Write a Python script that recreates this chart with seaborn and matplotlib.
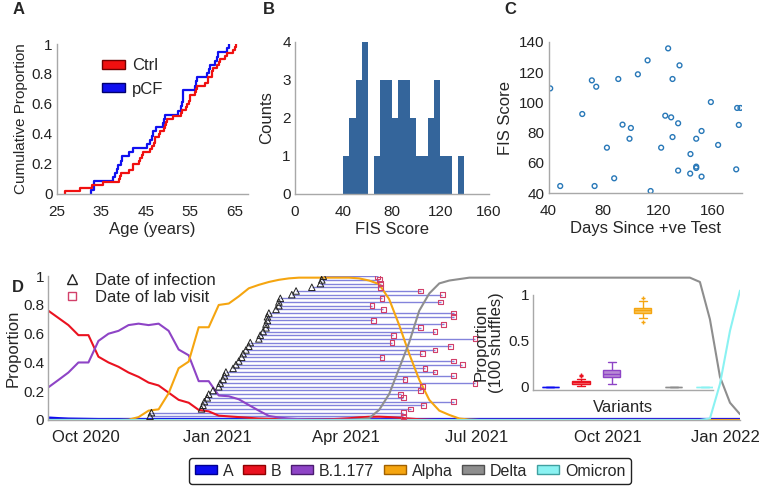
import numpy as np
import pandas as pd
import matplotlib
matplotlib.use('Agg')
import matplotlib.pyplot as plt
import matplotlib.dates as mdates
from matplotlib.patches import Patch
from matplotlib.lines import Line2D
from matplotlib.ticker import FuncFormatter
from matplotlib.transforms import ScaledTranslation
import seaborn as sns

# ---------------- data ----------------
# A: ages of the two groups
ctrl_ages = [26.8, 30.2, 32.8, 35.4, 39.0, 39.2, 39.3, 41.1, 42.0, 42.2,
             43.5, 43.7, 44.2, 44.4, 45.9, 46.5, 46.8, 47.0, 47.1, 48.0,
             48.2, 49.0, 49.3, 49.5, 49.7, 51.2, 53.0, 53.1, 54.0, 54.2,
             54.8, 54.9, 55.0, 56.0, 56.3, 56.5, 58.3, 59.0, 59.1, 59.8,
             60.0, 60.2, 61.0, 61.5, 61.7, 62.8, 63.2, 64.7, 65.0, 65.3]
pcf_ages = [32.6, 33.3, 33.4, 37.7, 38.0, 38.5, 38.8, 39.4, 39.6, 41.1,
            42.2, 45.2, 45.9, 46.3, 46.7, 47.4, 48.8, 49.0, 49.3, 52.3,
            53.0, 53.2, 53.3, 53.35, 53.4, 56.0, 56.3, 56.5, 58.7, 59.2,
            59.5, 60.6, 61.0, 61.3, 63.2, 63.8]

# B: FIS score histogram, 5-point bins
fis_bin_left = [40, 45, 50, 55, 60, 65, 70, 75, 80, 85,
                90, 95, 100, 105, 110, 115, 120, 125, 130, 135]
fis_counts = [1, 2, 3, 4, 0, 1, 3, 3, 2, 3,
              3, 2, 1, 1, 2, 3, 1, 1, 0, 1]

# C: days since positive test vs FIS score
days_since_test = [41.2, 48.5, 64.6, 71.6, 74.8, 73.6, 82.6, 87.9, 90.9, 94.0,
                   100.1, 99.1, 105.2, 112.3, 114.5, 122.2, 125.2, 127.3, 129.5, 130.5,
                   130.5, 134.6, 135.6, 134.6, 143.4, 143.6, 147.8, 147.8, 147.8, 151.7,
                   151.7, 158.5, 163.8, 177.0, 177.7, 180.1, 178.9]
fis_score = [109.2, 44.8, 92.3, 114.5, 110.3, 44.8, 70.1, 49.9, 115.4, 85.3,
             83.1, 76.0, 118.5, 127.7, 41.5, 70.1, 91.2, 135.6, 90.1, 115.4,
             77.1, 86.2, 124.4, 55.0, 53.0, 65.9, 76.0, 57.6, 56.7, 81.1,
             51.0, 100.2, 71.9, 55.8, 96.3, 96.3, 85.1]

# D: weekly variant proportions starting 2020-09-05
variants = ['A', 'B', 'B.1.177', 'Alpha', 'Delta', 'Omicron']
share_a = [0.012, 0.008, 0.005, 0.004, 0.003, 0.002, 0.002, 0.002, 0.002, 0.002,
           0.002, 0.002, 0.002, 0.002, 0.002, 0.002, 0.002, 0.002, 0.002, 0.002,
           0.002, 0.002, 0.002, 0.002, 0.002, 0.002, 0.002, 0.002, 0.002, 0.002,
           0.002, 0.002, 0.002, 0.002, 0.002, 0.002, 0.002, 0.002, 0.002, 0.002,
           0.002, 0.002, 0.002, 0.002, 0.002, 0.002, 0.002, 0.002, 0.002, 0.002,
           0.002, 0.002, 0.002, 0.002, 0.002, 0.002, 0.002, 0.002, 0.002, 0.002,
           0.002, 0.002, 0.002, 0.002, 0.002, 0.002, 0.002, 0.002, 0.002, 0.002]
share_b = [0.76, 0.71, 0.66, 0.59, 0.59, 0.44, 0.40, 0.37, 0.33, 0.30,
           0.26, 0.24, 0.19, 0.14, 0.12, 0.07, 0.06, 0.03, 0.025, 0.02,
           0.015, 0.01, 0.008, 0.006, 0.005, 0.004, 0.004, 0.004, 0.005, 0.008,
           0.012, 0.018, 0.022, 0.023, 0.02, 0.015, 0.01, 0.005, 0.002, 0.0,
           0.0, 0.0, 0.0, 0.0, 0.0, 0.0, 0.0, 0.0, 0.0, 0.0,
           0.0, 0.0, 0.0, 0.0, 0.0, 0.0, 0.0, 0.0, 0.0, 0.0,
           0.0, 0.0, 0.0, 0.0, 0.0, 0.0, 0.0, 0.0, 0.0, 0.0]
share_b1177 = [0.227, 0.278, 0.33, 0.40, 0.40, 0.55, 0.60, 0.62, 0.66, 0.67,
               0.66, 0.67, 0.62, 0.49, 0.45, 0.27, 0.27, 0.17, 0.165, 0.144,
               0.104, 0.065, 0.028, 0.017, 0.01, 0.006, 0.004, 0.003, 0.002, 0.002,
               0.002, 0.003, 0.003, 0.002, 0.001, 0.0, 0.0, 0.0, 0.0, 0.0,
               0.0, 0.0, 0.0, 0.0, 0.0, 0.0, 0.0, 0.0, 0.0, 0.0,
               0.0, 0.0, 0.0, 0.0, 0.0, 0.0, 0.0, 0.0, 0.0, 0.0,
               0.0, 0.0, 0.0, 0.0, 0.0, 0.0, 0.0, 0.0, 0.0, 0.0]
share_alpha = [0.0, 0.0, 0.0, 0.0, 0.0, 0.0, 0.0, 0.0, 0.002, 0.02,
               0.065, 0.074, 0.186, 0.36, 0.406, 0.645, 0.645, 0.80, 0.81, 0.86,
               0.916, 0.94, 0.96, 0.975, 0.985, 0.99, 0.99, 0.99, 0.99, 0.99,
               0.99, 0.985, 0.97, 0.945, 0.84, 0.66, 0.46, 0.28, 0.14, 0.065,
               0.035, 0.01, 0.003, 0.0, 0.0, 0.0, 0.0, 0.0, 0.0, 0.0,
               0.0, 0.0, 0.0, 0.0, 0.0, 0.0, 0.0, 0.0, 0.0, 0.0,
               0.0, 0.0, 0.0, 0.0, 0.0, 0.0, 0.0, 0.0, 0.0, 0.0]
share_delta = [0.0, 0.0, 0.0, 0.0, 0.0, 0.0, 0.0, 0.0, 0.0, 0.0,
               0.0, 0.0, 0.0, 0.0, 0.0, 0.0, 0.0, 0.0, 0.0, 0.0,
               0.0, 0.0, 0.0, 0.0, 0.0, 0.0, 0.0, 0.0, 0.0, 0.0,
               0.0, 0.005, 0.012, 0.07, 0.18, 0.36, 0.54, 0.76, 0.88, 0.95,
               0.97, 0.98, 0.99, 0.99, 0.99, 0.99, 0.99, 0.99, 0.99, 0.99,
               0.99, 0.99, 0.99, 0.99, 0.99, 0.99, 0.99, 0.99, 0.99, 0.99,
               0.99, 0.99, 0.99, 0.99, 0.99, 0.96, 0.70, 0.30, 0.12, 0.04]
share_omicron = [0.0, 0.0, 0.0, 0.0, 0.0, 0.0, 0.0, 0.0, 0.0, 0.0,
                 0.0, 0.0, 0.0, 0.0, 0.0, 0.0, 0.0, 0.0, 0.0, 0.0,
                 0.0, 0.0, 0.0, 0.0, 0.0, 0.0, 0.0, 0.0, 0.0, 0.0,
                 0.0, 0.0, 0.0, 0.0, 0.0, 0.0, 0.0, 0.0, 0.0, 0.0,
                 0.0, 0.0, 0.0, 0.0, 0.0, 0.0, 0.0, 0.0, 0.0, 0.0,
                 0.0, 0.0, 0.0, 0.0, 0.0, 0.0, 0.0, 0.0, 0.0, 0.0,
                 0.0, 0.0, 0.0, 0.0, 0.0, 0.0, 0.01, 0.25, 0.62, 0.90]

# D: participants, date of infection and date of lab visit
infection_dates = ['2020-11-15', '2020-11-16', '2020-12-21', '2020-12-22', '2020-12-23',
                   '2020-12-25', '2020-12-26', '2020-12-29', '2021-01-02', '2021-01-03',
                   '2021-01-05', '2021-01-06', '2021-01-07', '2021-01-12', '2021-01-14',
                   '2021-01-16', '2021-01-18', '2021-01-19', '2021-01-21', '2021-01-23',
                   '2021-01-24', '2021-01-30', '2021-01-31', '2021-02-02', '2021-02-04',
                   '2021-02-04', '2021-02-05', '2021-02-05', '2021-02-06', '2021-02-11',
                   '2021-02-13', '2021-02-13', '2021-02-14', '2021-02-22', '2021-02-25',
                   '2021-03-08', '2021-03-14', '2021-03-15', '2021-03-16']
lab_visit_dates = ['2021-05-11', '2021-05-11', '2021-05-16', '2021-05-25', '2021-06-15',
                   '2021-05-11', '2021-05-09', '2021-05-23', '2021-05-24', '2021-06-30',
                   '2021-05-12', '2021-06-15', '2021-06-02', '2021-05-26', '2021-06-21',
                   '2021-06-15', '2021-04-26', '2021-05-24', '2021-06-02', '2021-06-13',
                   '2021-05-03', '2021-06-30', '2021-05-04', '2021-06-02', '2021-05-23',
                   '2021-06-08', '2021-04-20', '2021-06-15', '2021-06-15', '2021-04-27',
                   '2021-04-19', '2021-06-06', '2021-04-26', '2021-06-07', '2021-05-23',
                   '2021-04-25', '2021-04-25', '2021-04-24', '2021-04-23']

# D inset: proportion per variant over shuffles
shuffle_a = [0.0, 0.0, 0.0, 0.0]
shuffle_b = [0.005, 0.02, 0.03, 0.03, 0.035, 0.04, 0.045, 0.05, 0.055, 0.06,
             0.065, 0.085, 0.115, 0.13]
shuffle_b1177 = [0.03, 0.06, 0.09, 0.10, 0.11, 0.12, 0.13, 0.14, 0.15, 0.17,
                 0.185, 0.19, 0.22, 0.265]
shuffle_alpha = [0.70, 0.753, 0.78, 0.80, 0.81, 0.82, 0.83, 0.835, 0.84, 0.85,
                 0.855, 0.86, 0.90, 0.93, 0.964]
shuffle_delta = [0.0, 0.0, 0.0, 0.0]
shuffle_omicron = [0.0, 0.0, 0.0, 0.0]

# ---------------- style ----------------
sns.set_style('white')
plt.rcParams['font.family'] = ['Liberation Sans', 'DejaVu Sans']
plt.rcParams['axes.edgecolor'] = '#a8a8a8'
plt.rcParams['xtick.color'] = '#a8a8a8'
plt.rcParams['ytick.color'] = '#a8a8a8'
plt.rcParams['xtick.labelcolor'] = '#222222'
plt.rcParams['ytick.labelcolor'] = '#222222'

line_col = {'A': '#0c0cf0', 'B': '#ea1220', 'B.1.177': '#8e44c6',
            'Alpha': '#f5a510', 'Delta': '#8e8e8e', 'Omicron': '#8af2f2'}
edge_col = {'A': '#000090', 'B': '#900000', 'B.1.177': '#4c1c70',
            'Alpha': '#a06000', 'Delta': '#505050', 'Omicron': '#40a0a0'}
box_fill = {'A': '#6060ff', 'B': '#f47a7a', 'B.1.177': '#b88ad4',
            'Alpha': '#f8c458', 'Delta': '#b8b8b8', 'Omicron': '#b8f8f8'}

TICK = 11
LAB = 12


def style_axis(ax, xpad=3):
    sns.despine(ax=ax)
    ax.tick_params(direction='in', length=3, width=0.8, labelsize=TICK, pad=3)
    ax.tick_params(axis='x', pad=xpad)
    for s in ax.spines.values():
        s.set_linewidth(1.0)


num = FuncFormatter(lambda v, _: f'{v:g}')

fig = plt.figure(figsize=(7.6, 4.9), dpi=100)

# ---------------- A ----------------
ax_a = fig.add_axes([0.0750, 0.6041, 0.2513, 0.3061])
age_df = pd.DataFrame({'age': ctrl_ages + pcf_ages,
                       'group': ['Ctrl'] * len(ctrl_ages) + ['pCF'] * len(pcf_ages)})
sns.ecdfplot(data=age_df, x='age', hue='group', hue_order=['Ctrl', 'pCF'],
             palette={'Ctrl': '#f01010', 'pCF': '#1010f0'}, linewidth=1.6,
             legend=False, ax=ax_a)
ax_a.set_xlim(25, 68)
ax_a.set_ylim(0, 1.0)
ax_a.set_xticks([25, 35, 45, 55, 65])
ax_a.set_yticks([0, 0.2, 0.4, 0.6, 0.8, 1.0])
ax_a.yaxis.set_major_formatter(num)
ax_a.set_xlabel('Age (years)', fontsize=LAB, labelpad=2)
ax_a.set_ylabel('Cumulative Proportion', fontsize=11, labelpad=3)
style_axis(ax_a, xpad=8)
ax_a.legend(handles=[Patch(facecolor='#f01010', edgecolor='#700000', label='Ctrl'),
                     Patch(facecolor='#1010f0', edgecolor='#000070', label='pCF')],
            loc='upper left', bbox_to_anchor=(0.2, 0.95), frameon=False,
            fontsize=LAB, handlelength=1.4, handleheight=0.45, handletextpad=0.4,
            labelspacing=0.5, borderaxespad=0)

# ---------------- B ----------------
ax_b = fig.add_axes([0.3882, 0.6041, 0.2547, 0.3102])
bin_edges = fis_bin_left + [fis_bin_left[-1] + 5]
bin_mid = [b + 2.5 for b in fis_bin_left]
sns.histplot(x=bin_mid, weights=fis_counts, bins=bin_edges, color='#34659b',
             alpha=1, linewidth=0, ax=ax_b)
ax_b.set_xlim(0, 160)
ax_b.set_ylim(0, 4)
ax_b.set_xticks([0, 40, 80, 120, 160])
ax_b.set_yticks([0, 1, 2, 3, 4])
ax_b.set_xlabel('FIS Score', fontsize=LAB, labelpad=2)
ax_b.set_ylabel('Counts', fontsize=LAB, labelpad=6)
style_axis(ax_b, xpad=8)

# ---------------- C ----------------
ax_c = fig.add_axes([0.7218, 0.6055, 0.2541, 0.3094])
sns.scatterplot(x=days_since_test, y=fis_score, marker='o', s=12,
                facecolor='none', edgecolor='#2878b8', linewidth=1.0, ax=ax_c)
ax_c.set_xlim(40, 181)
ax_c.set_ylim(40, 140)
ax_c.set_xticks([40, 80, 120, 160])
ax_c.set_yticks([40, 60, 80, 100, 120, 140])
ax_c.set_xlabel('Days Since +ve Test', fontsize=LAB, labelpad=2)
ax_c.set_ylabel('FIS Score', fontsize=LAB, labelpad=4)
style_axis(ax_c, xpad=8)

# ---------------- D ----------------
ax_d = fig.add_axes([0.0636, 0.1429, 0.9101, 0.2934])
weeks = pd.date_range('2020-09-05', periods=len(share_b), freq='7D')
shares = {'A': share_a, 'B': share_b, 'B.1.177': share_b1177,
          'Alpha': share_alpha, 'Delta': share_delta, 'Omicron': share_omicron}
long_df = pd.concat([pd.DataFrame({'week': weeks, 'proportion': shares[v], 'variant': v})
                     for v in variants], ignore_index=True)

inf = pd.to_datetime(infection_dates)
lab = pd.to_datetime(lab_visit_dates)
rank = np.arange(1, len(inf) + 1) / len(inf)
ax_d.hlines(rank, inf, lab, color='#5a5ad0', alpha=0.75, linewidth=1.0, zorder=1)

sns.lineplot(data=long_df, x='week', y='proportion', hue='variant',
             hue_order=variants, palette=line_col, linewidth=1.5,
             legend=False, ax=ax_d, zorder=2)
ax_d.lines[0].set_linewidth(2.6)

sns.scatterplot(x=inf, y=rank, marker='^', s=22, facecolor='none',
                edgecolor='#222222', linewidth=0.7, ax=ax_d, zorder=4)
sns.scatterplot(x=lab, y=rank, marker='s', s=12, facecolor='none',
                edgecolor='#d2406a', linewidth=0.8, ax=ax_d, zorder=4)

ax_d.set_xlim(pd.Timestamp('2020-09-05'), pd.Timestamp('2022-01-01'))
ax_d.set_ylim(0, 1.0)
ax_d.set_yticks([0, 0.2, 0.4, 0.6, 0.8, 1.0])
ax_d.yaxis.set_major_formatter(num)
ax_d.set_xticks(pd.to_datetime(['2020-10-01', '2021-01-01', '2021-04-01',
                                '2021-07-01', '2021-10-01', '2022-01-01']))
ax_d.xaxis.set_major_formatter(mdates.DateFormatter('%b %Y'))
ax_d.set_xlabel('')
ax_d.set_ylabel('Proportion', fontsize=LAB, labelpad=2)
style_axis(ax_d, xpad=7)
ax_d.tick_params(axis='x', labelsize=LAB)
last = ax_d.get_xticklabels()[-1]
last.set_transform(last.get_transform() + ScaledTranslation(-0.15, 0, fig.dpi_scale_trans))

ax_d.legend(handles=[Line2D([], [], linestyle='none', marker='^', markersize=7,
                            markerfacecolor='none', markeredgecolor='#222222',
                            label='Date of infection'),
                     Line2D([], [], linestyle='none', marker='s', markersize=6,
                            markerfacecolor='none', markeredgecolor='#d2406a',
                            label='Date of lab visit')],
            loc='upper left', bbox_to_anchor=(0.012, 1.07), frameon=False,
            fontsize=LAB, handlelength=1.0, handletextpad=0.9,
            labelspacing=0.15, borderaxespad=0)

# inset box plot
ax_in = fig.add_axes([0.7017, 0.2041, 0.2368, 0.1939])
ax_in.patch.set_alpha(0)
shuffles = {'A': shuffle_a, 'B': shuffle_b, 'B.1.177': shuffle_b1177,
            'Alpha': shuffle_alpha, 'Delta': shuffle_delta, 'Omicron': shuffle_omicron}
box_df = pd.concat([pd.DataFrame({'variant': v, 'proportion': shuffles[v]})
                    for v in variants], ignore_index=True)
for v in variants:
    sns.boxplot(data=box_df[box_df['variant'] == v], x='variant', y='proportion',
                order=variants, color=box_fill[v], linecolor=line_col[v],
                saturation=1, width=0.55, linewidth=1.0,
                flierprops=dict(marker='+', markersize=3,
                                markeredgecolor=line_col[v]),
                ax=ax_in)
ax_in.set_xlim(-0.54, 5.27)
ax_in.set_ylim(-0.036, 1.0)
ax_in.set_yticks([0, 0.5, 1])
ax_in.yaxis.set_major_formatter(num)
ax_in.set_xticklabels([])
ax_in.set_xlabel('Variants', fontsize=LAB, labelpad=4)
ax_in.set_ylabel('Proportion\n(100 shuffles)', fontsize=LAB, labelpad=3,
                 linespacing=1.0)
style_axis(ax_in)

# panel letters
for letter, (x, y) in {'A': (13, 9), 'B': (263, 9), 'C': (504, 9),
                       'D': (12, 287)}.items():
    fig.text(x / 760, 1 - y / 490, letter, fontsize=12, fontweight='bold',
             ha='left', va='center')

# bottom legend
fig.legend(handles=[Patch(facecolor=line_col[v], edgecolor=edge_col[v], label=v)
                    for v in variants],
           loc='center', bbox_to_anchor=(410 / 760, 1 - 471 / 490), ncol=6,
           fontsize=11.5, frameon=True, fancybox=True, edgecolor='#222222',
           framealpha=1, handlelength=1.4, handleheight=0.5, handletextpad=0.35,
           columnspacing=0.6, borderpad=0.35)

fig.savefig('out.png', dpi=100)
